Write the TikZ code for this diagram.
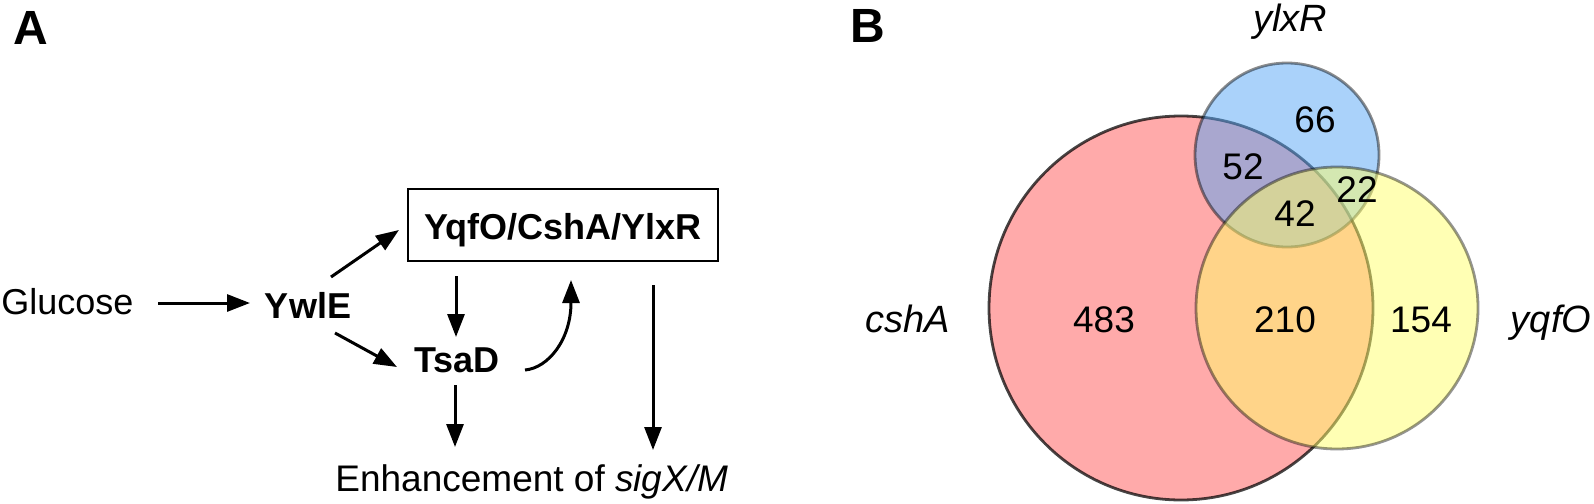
\documentclass[tikz,border=0pt]{standalone}
\usepackage{fontspec}
\setmainfont{Liberation Sans}
\usetikzlibrary{arrows.meta,calc}
\definecolor{vred}{RGB}{255,85,85}
\definecolor{vblue}{RGB}{85,165,245}
\definecolor{vyel}{RGB}{255,255,105}
\begin{document}
\begin{tikzpicture}[x=0.5pt,y=-0.5pt,
  lab/.style={inner sep=0pt, font=\fontsize{18}{20}\selectfont},
  blab/.style={inner sep=0pt, font=\fontsize{18}{20}\selectfont\bfseries},
  panel/.style={inner sep=0pt, anchor=base west, font=\fontsize{24}{26}\selectfont\bfseries},
  arr/.style={line width=1.5pt, -{Triangle[length=11.5pt,width=8.5pt]}},
  num/.style={inner sep=0pt, anchor=base, font=\fontsize{18.5}{20}\selectfont},
  gene/.style={inner sep=0pt, anchor=base, font=\fontsize{19}{21}\selectfont\itshape},
  boxst/.style={draw, line width=1pt, minimum width=155pt, minimum height=36pt, inner sep=0pt},
  venn/.style={fill opacity=0.5, draw=black, line width=1.4pt},
]
\useasboundingbox (0,0) rectangle (1594,503);
% Panel A
\node[panel] (pa) at (13,44) {A};
\node[lab, anchor=base west] (glu) at (1,314) {Glucose};
\node[blab, anchor=base] (ywle) at (308,318) {YwlE};
\node[blab, anchor=base] (tsad) at (457,372) {TsaD};
\node[boxst] (box) at (563,225) {};
\node[blab, anchor=base] (boxlab) at (563,239) {YqfO/CshA/YlxR};
\node[lab, anchor=base west, font=\fontsize{18.5}{20}\selectfont] (enh) at (335,491) {Enhancement of \textit{sigX/M}};
\draw[arr] ($(glu.base west)+(157,-11)$) -- ($(ywle.base)+(-58,-15)$);
\draw[arr] ($(ywle.base)+(23,-41)$) -- ($(box.west)+(-8,5)$);
\draw[arr] ($(ywle.base)+(27,15)$) -- ($(tsad.base)+(-60,-5)$);
\draw[arr] ($(box.south)+(-107,14)$) -- ($(tsad.base)+(-1,-35)$);
\draw[arr] ($(tsad.base)+(-2,13)$) -- ($(enh.base west)+(120,-44)$);
\draw[arr] ($(box.south)+(90,23)$) -- ($(enh.base west)+(318,-41)$);
\draw[arr] ($(tsad.base)+(68,-2)$) .. controls ($(tsad.base)+(91,-4)$) and ($(box.south)+(8,78)$) .. ($(box.south)+(8,18)$);
% Panel B
\node[panel] (pb) at (850,42) {B};
\filldraw[venn, fill=vred, draw opacity=0.72] (1181,308) circle[radius=96pt];
\filldraw[venn, fill=vblue, draw opacity=0.45] (1287,155) circle[radius=46pt];
\filldraw[venn, fill=vyel, draw opacity=0.42] (1337,308) circle[radius=70.5pt];
\node[num] (n483) at (1104,332) {483};
\node[num] (n210) at (1285,332) {210};
\node[num] (n154) at (1421,332) {154};
\node[num] (n66) at (1315,132) {66};
\node[num] (n52) at (1243,179) {52};
\node[num] (n22) at (1357,202) {22};
\node[num] (n42) at (1295,226) {42};
\node[gene] (gy) at (1290,32) {ylxR};
\node[gene] (gc) at (908,332) {cshA};
\node[gene] (gq) at (1551,332) {yqfO};
\end{tikzpicture}
\end{document}
